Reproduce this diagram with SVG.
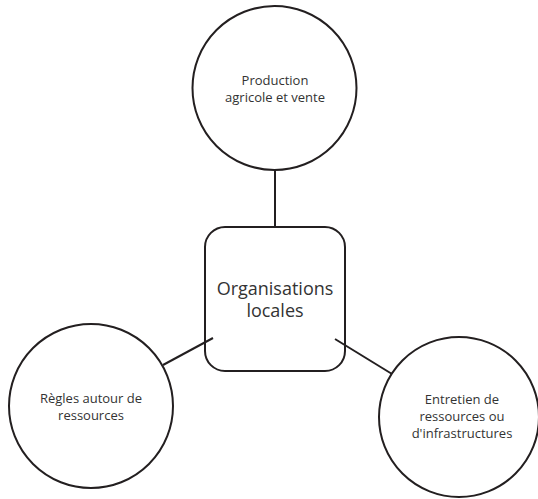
<svg xmlns="http://www.w3.org/2000/svg" width="538" height="499" viewBox="0 0 538 499">
<style>
.shape{fill:#fff;stroke:#231f20;stroke-width:2}
.conn{stroke:#231f20;stroke-width:2;fill:none}
text{font-family:"Open Sans","Liberation Sans",sans-serif;fill:#333;text-anchor:middle}
.s{font-size:13px}
.l{font-size:18px}
</style>
<rect width="538" height="499" fill="#fff"/>
<g id="node-production">
<circle class="shape" cx="274.5" cy="88" r="82"/>
<text class="s" x="275" y="85">Production</text>
<text class="s" x="275" y="102">agricole et vente</text>
</g>
<g id="node-organisations">
<rect class="shape" x="205" y="227" width="140" height="144" rx="20"/>
<text class="l" x="275" y="295">Organisations</text>
<text class="l" x="275" y="317">locales</text>
</g>
<g id="node-regles">
<circle class="shape" cx="91" cy="406" r="82"/>
<text class="s" x="91" y="403">Règles autour de</text>
<text class="s" x="91" y="420">ressources</text>
</g>
<g id="node-entretien">
<circle class="shape" cx="459" cy="417" r="80"/>
<text class="s" x="462" y="404">Entretien de</text>
<text class="s" x="462" y="421">ressources ou</text>
<text class="s" x="462" y="438">d'infrastructures</text>
</g>
<g id="connectors">
<line class="conn" x1="275" y1="170" x2="275" y2="228"/>
<line class="conn" x1="213" y1="338" x2="163" y2="365"/>
<line class="conn" x1="335" y1="339" x2="392" y2="374"/>
</g>
</svg>
